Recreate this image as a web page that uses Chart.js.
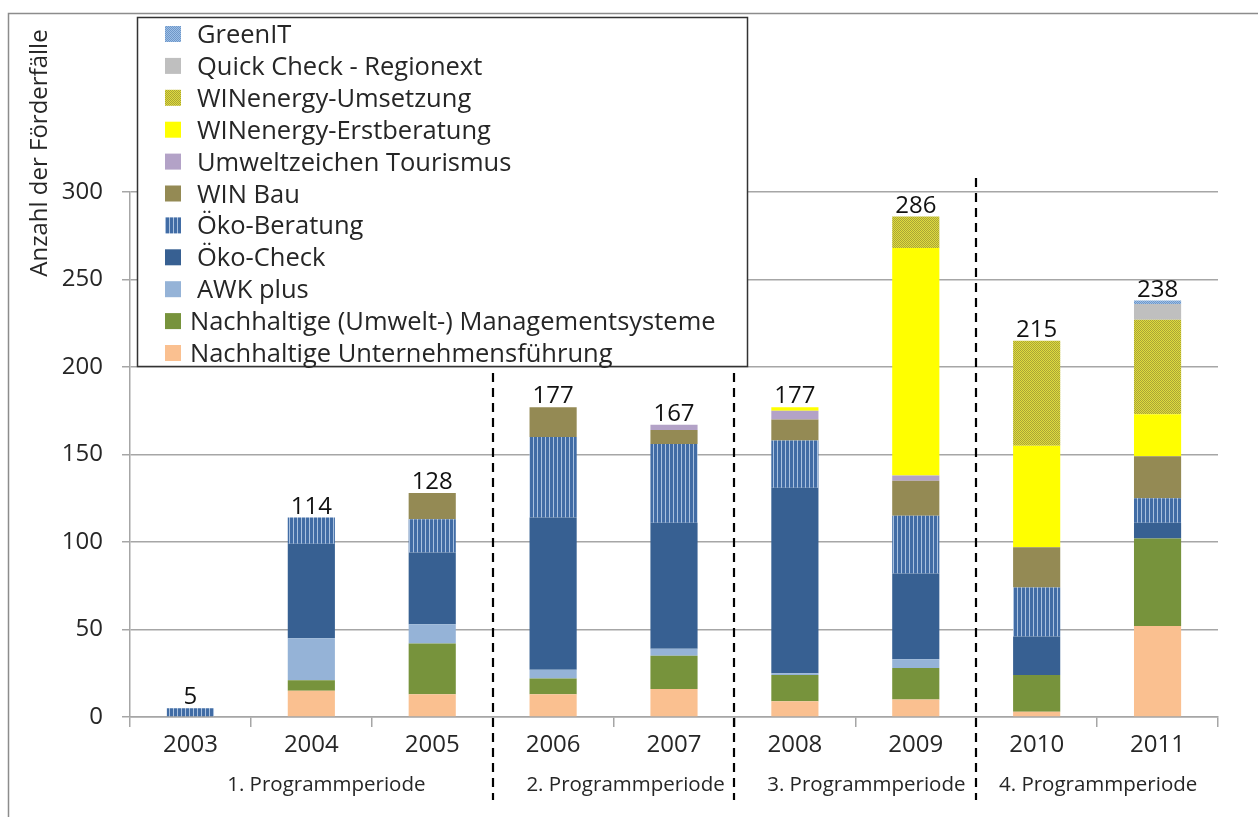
<!DOCTYPE html>
<html>
<head>
<meta charset="utf-8">
<script src="https://cdn.jsdelivr.net/npm/chart.js@4.4.1/dist/chart.umd.min.js"></script>
<style>
  html, body { margin: 0; padding: 0; background: #fff; }
  #wrap { width: 1258px; height: 817px; position: relative; }
</style>
</head>
<body>
<div id="wrap"><canvas id="chart" width="1258" height="817"></canvas></div>
<script>
// Daten
const years = ['2003', '2004', '2005', '2006', '2007', '2008', '2009', '2010', '2011'];
const periods = ['1. Programmperiode', '2. Programmperiode', '3. Programmperiode', '4. Programmperiode'];
const periodRanges = [[0, 2], [3, 4], [5, 6], [7, 8]];
const yTicks = [0, 50, 100, 150, 200, 250, 300];

const unternehmensfuehrung = [0, 15, 13, 13, 16, 9, 10, 3, 52];
const managementsysteme    = [0, 6, 29, 9, 19, 15, 18, 21, 50];
const awkPlus              = [0, 24, 11, 5, 4, 1, 5, 0, 0];
const oekoCheck            = [0, 54, 41, 87, 72, 106, 49, 22, 9];
const oekoBeratung         = [5, 15, 19, 46, 45, 27, 33, 28, 14];
const winBau               = [0, 0, 15, 17, 8, 12, 20, 23, 24];
const umweltzeichen        = [0, 0, 0, 0, 3, 5, 3, 0, 0];
const erstberatung         = [0, 0, 0, 0, 0, 2, 130, 58, 24];
const umsetzung            = [0, 0, 0, 0, 0, 0, 18, 60, 54];
const quickCheck           = [0, 0, 0, 0, 0, 0, 0, 0, 9];
const greenIT              = [0, 0, 0, 0, 0, 0, 0, 0, 2];

const FONT = '"Open Sans", "Noto Sans", sans-serif';
const TEXT = '#262626';
const GRID = '#a6a6a6';

const canvas = document.getElementById('chart');
const ctx = canvas.getContext('2d');

// Muster für schraffierte Segmente
function stripes(base, line) {
    const c = document.createElement('canvas');
    c.width = 4; c.height = 4;
    const g = c.getContext('2d');
    g.fillStyle = base; g.fillRect(0, 0, 4, 4);
    g.fillStyle = line; g.fillRect(1, 0, 1, 4);
    return ctx.createPattern(c, 'repeat');
}
function dots(base, dot) {
    const c = document.createElement('canvas');
    c.width = 2; c.height = 2;
    const g = c.getContext('2d');
    g.fillStyle = base; g.fillRect(0, 0, 2, 2);
    g.fillStyle = dot; g.fillRect(0, 0, 1, 1); g.fillRect(1, 1, 1, 1);
    return ctx.createPattern(c, 'repeat');
}

const series = [
    { label: 'Nachhaltige Unternehmensführung', data: unternehmensfuehrung, color: '#fac090' },
    { label: 'Nachhaltige (Umwelt-) Managementsysteme', data: managementsysteme, color: '#77933c' },
    { label: 'AWK plus', data: awkPlus, color: '#95b3d7' },
    { label: 'Öko-Check', data: oekoCheck, color: '#376092' },
    { label: 'Öko-Beratung', data: oekoBeratung, color: stripes('#416ca5', '#a9c1df') },
    { label: 'WIN Bau', data: winBau, color: '#948a54' },
    { label: 'Umweltzeichen Tourismus', data: umweltzeichen, color: '#b3a2c7' },
    { label: 'WINenergy-Erstberatung', data: erstberatung, color: '#ffff00' },
    { label: 'WINenergy-Umsetzung', data: umsetzung, color: dots('#e0dc3e', '#a9a436') },
    { label: 'Quick Check - Regionext', data: quickCheck, color: '#bfbfbf' },
    { label: 'GreenIT', data: greenIT, color: dots('#9dbfe6', '#6f97c8') }
];

// Summen, Trennlinien, Perioden, Legende, Rahmen
const periodShift = [15, 12, 11, 1];
const extras = {
    id: 'extras',
    afterDatasetsDraw(chart) {
        const c = chart.ctx;
        const x = chart.scales.x;
        const y = chart.scales.y;
        c.save();
        // Summen über den Säulen
        c.font = '24px ' + FONT;
        c.fillStyle = '#111';
        c.textAlign = 'center';
        c.textBaseline = 'alphabetic';
        years.forEach((yr, i) => {
            const total = series.reduce((s, d) => s + d.data[i], 0);
            c.fillText(String(total), x.getPixelForValue(i), y.getPixelForValue(total) - 4);
        });
        // gestrichelte Periodentrenner
        c.strokeStyle = '#000';
        c.lineWidth = 2.2;
        c.setLineDash([9, 6]);
        periodRanges.slice(0, -1).forEach(r => {
            const px = Math.round((x.getPixelForValue(r[1]) + x.getPixelForValue(r[1] + 1)) / 2);
            c.beginPath();
            c.moveTo(px, 178);
            c.lineTo(px, 800);
            c.stroke();
        });
        c.setLineDash([]);
        // Periodenbeschriftung
        c.font = '20.5px ' + FONT;
        c.fillStyle = TEXT;
        c.textBaseline = 'middle';
        periodRanges.forEach((r, i) => {
            const px = (x.getPixelForValue(r[0]) + x.getPixelForValue(r[1])) / 2 + periodShift[i];
            c.fillText(periods[i], px, 785);
        });
        c.restore();
    },
    afterDraw(chart) {
        const c = chart.ctx;
        c.save();
        // äußerer Rahmen (oben und links)
        c.strokeStyle = '#8c8c8c';
        c.lineWidth = 1.5;
        c.beginPath();
        c.moveTo(8.5, 817);
        c.lineTo(8.5, 13.5);
        c.lineTo(1258, 13.5);
        c.stroke();
        // Achsentitel
        c.translate(40, 153);
        c.rotate(-Math.PI / 2);
        c.font = '24px ' + FONT;
        c.fillStyle = TEXT;
        c.textAlign = 'center';
        c.textBaseline = 'middle';
        c.fillText('Anzahl der Förderfälle', 0, 0);
        c.setTransform(1, 0, 0, 1, 0, 0);
        // Legende
        c.fillStyle = '#fff';
        c.fillRect(137, 17, 610, 349);
        c.strokeStyle = '#333';
        c.lineWidth = 1.5;
        c.strokeRect(137.5, 17.5, 610, 349);
        c.font = '25.5px ' + FONT;
        c.textAlign = 'left';
        c.textBaseline = 'alphabetic';
        const rows = series.slice().reverse();
        rows.forEach((s, i) => {
            const cy = 34 + i * 31.9;
            c.fillStyle = s.color;
            c.fillRect(165, cy - 8, 16, 16);
            c.fillStyle = TEXT;
            c.fillText(s.label, i >= rows.length - 2 ? 190 : 197, cy + 9);
        });
        c.restore();
    }
};

new Chart(ctx, {
    type: 'bar',
    data: {
        labels: years,
        datasets: series.map(s => ({
            label: s.label,
            data: s.data,
            backgroundColor: s.color,
            borderWidth: 0,
            barPercentage: 0.39,
            categoryPercentage: 1
        }))
    },
    options: {
        responsive: false,
        animation: false,
        layout: { padding: { left: 0, top: 192, right: 40, bottom: 0 } },
        plugins: {
            legend: { display: false },
            tooltip: { enabled: false }
        },
        scales: {
            x: {
                stacked: true,
                afterFit(scale) { scale.height = 100; },
                grid: {
                    offset: true,
                    drawOnChartArea: false,
                    drawTicks: true,
                    tickLength: 10,
                    color: GRID,
                    lineWidth: 1.5
                },
                border: { color: GRID, width: 1.5 },
                ticks: { color: TEXT, font: { family: FONT, size: 24 }, padding: 4 }
            },
            y: {
                stacked: true,
                min: 0,
                max: 300,
                afterFit(scale) { scale.width = 130; },
                afterBuildTicks(scale) { scale.ticks = yTicks.map(v => ({ value: v })); },
                grid: { color: GRID, lineWidth: 1.5, tickLength: 8 },
                border: { color: GRID, width: 1.5 },
                ticks: { color: TEXT, font: { family: FONT, size: 24 }, padding: 19 }
            }
        }
    },
    plugins: [extras]
});
</script>
</body>
</html>
